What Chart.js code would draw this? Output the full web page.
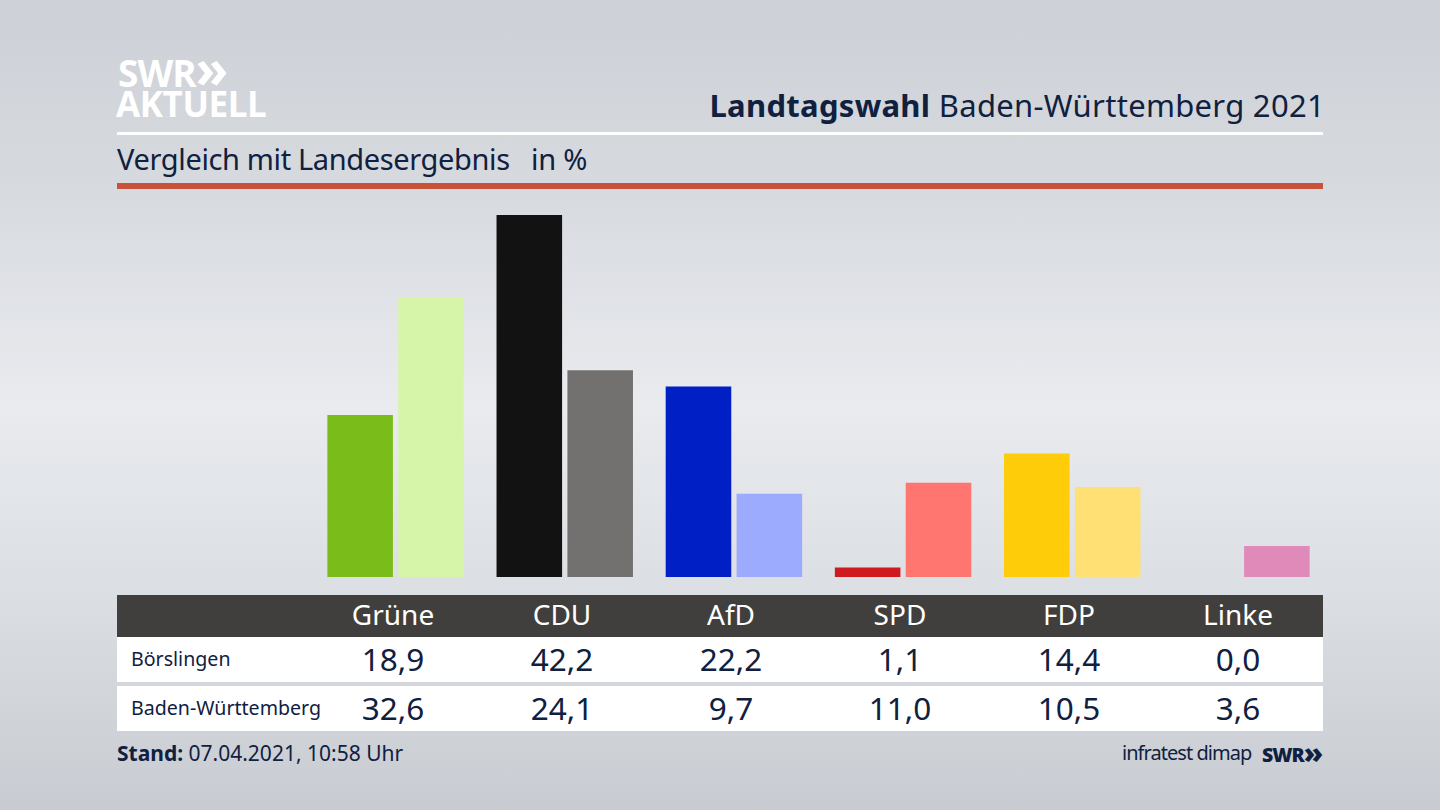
<!DOCTYPE html>
<html lang="de">
<head>
<meta charset="utf-8">
<title>Landtagswahl Baden-Württemberg 2021</title>
<script src="https://cdn.jsdelivr.net/npm/chart.js@4"></script>
<style>
  html, body { margin: 0; padding: 0; }
  body {
    width: 1440px; height: 810px; overflow: hidden; position: relative;
    font-family: "Noto Sans", sans-serif; color: #10203f;
    background: linear-gradient(180deg, #cdd0d6 0%, #d6d9de 22%, #e9ebef 50%, #dcdfe3 72%, #c8cbd1 100%);
  }
  canvas { position: absolute; left: 0; top: 0; }
  .txt { position: absolute; white-space: nowrap; line-height: 1; }
  .box { position: absolute; left: 117px; width: 1206px; }
  .ctr { transform: translateX(-50%); }
  .chev { font-size: 1.45em; line-height: 0; position: relative; top: .02em; letter-spacing: 0; }
</style>
</head>
<body>
<div class="txt" style="left:118px;top:47px;font:700 37px 'Open Sans';color:#fff;letter-spacing:-1px">SWR<span class="chev">»</span></div>
<div class="txt" style="left:116px;top:80px;font:700 35px 'Open Sans';color:#fff;letter-spacing:-.4px">AKTUELL</div>
<div class="txt" style="right:115px;top:90px;font-size:31px;letter-spacing:.3px"><b>Landtagswahl</b> Baden-Württemberg 2021</div>
<div class="box" style="top:132px;height:3px;background:#fff"></div>
<div class="txt" style="left:117px;top:144px;font-size:29px;letter-spacing:-.36px">Vergleich mit Landesergebnis</div>
<div class="txt" style="left:531px;top:144px;font-size:29px;letter-spacing:-.2px">in %</div>
<div class="box" style="top:183px;height:6px;background:#c9533a"></div>

<div class="box" style="top:595px;height:42px;background:#403f3d"></div>
<div class="box" style="top:637px;height:45px;background:#fff"></div>
<div class="box" style="top:686px;height:45px;background:#fff"></div>
<div id="table"></div>

<div class="txt" style="left:117px;top:743px;font-size:21px"><b>Stand:</b> 07.04.2021, 10:58 Uhr</div>
<div class="txt" style="left:1122px;top:743px;font-size:20px;letter-spacing:-.95px">infratest dimap</div>
<div class="txt" style="right:117px;top:741px;font:800 19.5px 'Open Sans';letter-spacing:-1px">SWR<span class="chev">»</span></div>

<canvas id="chart" width="1440" height="810"></canvas>
<script>
// ─── Data ─────────────────────────────────────────────────────────────
const parties = ["Grüne", "CDU", "AfD", "SPD", "FDP", "Linke"];
const boerslingen = [18.9, 42.2, 22.2, 1.1, 14.4, 0.0];
const badenWuerttemberg = [32.6, 24.1, 9.7, 11.0, 10.5, 3.6];
const rowNames = ["Börslingen", "Baden-Württemberg"];

const strongColors = ["#7abd1a", "#121212", "#001fc4", "#cf1a1f", "#ffcc0a", "#df1e7e"];
const paleColors = ["#d6f5a8", "#72716f", "#9dabff", "#ff7570", "#ffe074", "#df8ab8"];

// ─── Bars ─────────────────────────────────────────────────────────────
new Chart(document.getElementById("chart").getContext("2d"), {
  type: "bar",
  data: {
    labels: parties,
    datasets: [
      { label: rowNames[0], data: boerslingen, backgroundColor: strongColors },
      { label: rowNames[1], data: badenWuerttemberg, backgroundColor: paleColors },
    ],
  },
  options: {
    responsive: false,
    animation: false,
    categoryPercentage: 0.838,
    barPercentage: 0.925,
    layout: { padding: { left: 311, right: 114, top: 191, bottom: 233 } },
    plugins: { legend: { display: false }, tooltip: { enabled: false } },
    scales: {
      x: { display: false },
      y: { display: false, min: 0, max: 45 },
    },
  },
});

// ─── Table under the bars ─────────────────────────────────────────────
const table = document.getElementById("table");
const fmt = (v) => v.toFixed(1).replace(".", ",");

function addText(text, x, y, css, centred) {
  const el = document.createElement("div");
  el.className = centred ? "txt ctr" : "txt";
  el.textContent = text;
  el.style.cssText = `left:${x}px;top:${y}px;${css}`;
  table.appendChild(el);
}

parties.forEach((p, i) => {
  const x = 393 + i * 169;
  addText(p, x, 600, "font-size:28px;color:#fff", true);
  addText(fmt(boerslingen[i]), x, 643, "font-size:31.5px", true);
  addText(fmt(badenWuerttemberg[i]), x, 692, "font-size:31.5px", true);
});
addText(rowNames[0], 131, 649, "font-size:19.6px");
addText(rowNames[1], 131, 698, "font-size:19.6px");
</script>
</body>
</html>
